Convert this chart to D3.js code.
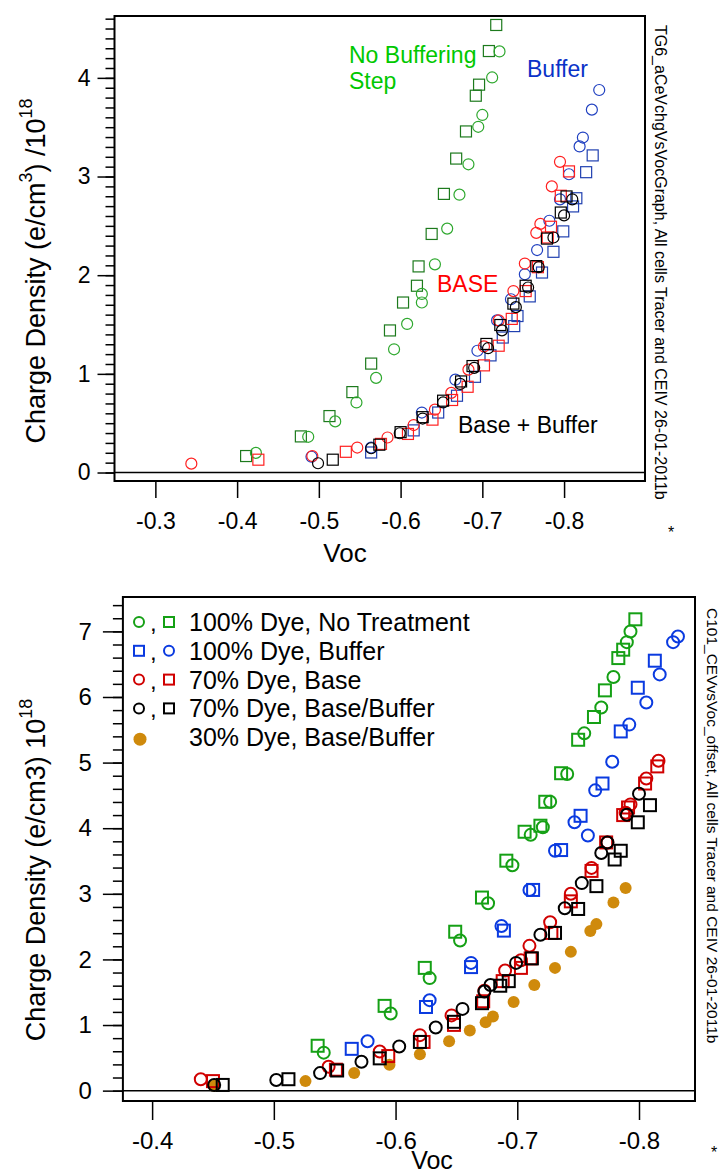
<!DOCTYPE html>
<html>
<head>
<meta charset="utf-8">
<title>Charge Density vs Voc</title>
<script src="https://d3js.org/d3.v7.min.js"></script>
<style>
  body { margin: 0; background: #fff; }
  svg { display: block; font-family: "Liberation Sans", Arial, Helvetica, sans-serif; }
</style>
</head>
<body>
<script>
// ---- top panel: [Voc, charge density /1e18] ----
var topNoBufSquares = [[-0.411,0.167],[-0.478,0.366],[-0.513,0.572],[-0.541,0.815],[-0.564,1.104],[-0.587,1.44],[-0.603,1.723],[-0.620,1.893],[-0.622,2.089],[-0.638,2.418],[-0.653,2.824],[-0.668,3.182],[-0.680,3.457],[-0.692,3.819],[-0.696,3.931],[-0.708,4.272],[-0.717,4.536]];
var topNoBufCircles = [[-0.423,0.199],[-0.487,0.362],[-0.520,0.518],[-0.546,0.710],[-0.570,0.959],[-0.592,1.249],[-0.608,1.506],[-0.626,1.723],[-0.626,1.810],[-0.642,2.110],[-0.657,2.472],[-0.672,2.816],[-0.683,3.124],[-0.695,3.504],[-0.700,3.624],[-0.712,4.004],[-0.721,4.268]];
var topBufferCircles = [[-0.491,0.160],[-0.564,0.253],[-0.626,0.608],[-0.667,0.941],[-0.694,1.234],[-0.718,1.542],[-0.735,1.756],[-0.752,2.009],[-0.767,2.255],[-0.782,2.552],[-0.795,2.769],[-0.806,3.023],[-0.819,3.305],[-0.823,3.395],[-0.834,3.678],[-0.843,3.877]];
var topBufferSquares = [[-0.564,0.203],[-0.616,0.427],[-0.646,0.608],[-0.669,0.778],[-0.691,0.970],[-0.710,1.187],[-0.725,1.368],[-0.739,1.484],[-0.743,1.586],[-0.758,1.785],[-0.773,2.027],[-0.787,2.237],[-0.799,2.444],[-0.811,2.697],[-0.815,2.780],[-0.827,3.044],[-0.835,3.214]];
var topBaseCircles = [[-0.344,0.090],[-0.492,0.167],[-0.547,0.253],[-0.584,0.355],[-0.616,0.481],[-0.642,0.637],[-0.662,0.807],[-0.683,1.043],[-0.702,1.278],[-0.720,1.542],[-0.738,1.839],[-0.752,2.118],[-0.766,2.429],[-0.771,2.520],[-0.785,2.900],[-0.795,3.149]];
var topBaseSquares = [[-0.426,0.130],[-0.533,0.210],[-0.576,0.290],[-0.609,0.391],[-0.639,0.536],[-0.663,0.735],[-0.682,0.869],[-0.702,1.086],[-0.720,1.285],[-0.736,1.557],[-0.753,1.839],[-0.768,2.081],[-0.780,2.382],[-0.784,2.491],[-0.796,2.805],[-0.806,3.052]];
var topBaseBufCircles = [[-0.499,0.094],[-0.564,0.246],[-0.599,0.398],[-0.627,0.547],[-0.652,0.710],[-0.673,0.898],[-0.690,1.061],[-0.707,1.260],[-0.724,1.441],[-0.741,1.676],[-0.756,1.875],[-0.769,2.081],[-0.787,2.382],[-0.800,2.606],[-0.810,2.769]];
var topBaseBufSquares = [[-0.517,0.130],[-0.574,0.282],[-0.600,0.409],[-0.627,0.561],[-0.652,0.728],[-0.674,0.923],[-0.688,1.079],[-0.705,1.303],[-0.722,1.495],[-0.738,1.712],[-0.753,1.893],[-0.766,2.092],[-0.779,2.371],[-0.796,2.635],[-0.803,2.798]];

// ---- bottom panel ----
var botNoTreatSquares = [[-0.536,0.684],[-0.591,1.292],[-0.624,1.871],[-0.649,2.422],[-0.671,2.943],[-0.691,3.505],[-0.706,3.946],[-0.719,4.038],[-0.723,4.403],[-0.736,4.838],[-0.750,5.348],[-0.763,5.695],[-0.772,6.101],[-0.783,6.593],[-0.787,6.721],[-0.797,7.184]];
var botNoTreatCircles = [[-0.541,0.579],[-0.596,1.176],[-0.628,1.715],[-0.653,2.288],[-0.676,2.856],[-0.696,3.436],[-0.711,3.899],[-0.721,4.015],[-0.727,4.403],[-0.741,4.826],[-0.755,5.446],[-0.769,5.840],[-0.779,6.304],[-0.790,6.836],[-0.793,6.999]];
var botBufferSquares = [[-0.564,0.637],[-0.625,1.275],[-0.662,1.883],[-0.689,2.439],[-0.713,3.059],[-0.736,3.667],[-0.752,4.189],[-0.770,4.681],[-0.785,5.475],[-0.799,6.141],[-0.813,6.553]];
var botBufferCircles = [[-0.577,0.753],[-0.628,1.379],[-0.662,1.947],[-0.687,2.509],[-0.710,3.059],[-0.731,3.656],[-0.747,4.090],[-0.758,3.888],[-0.764,4.577],[-0.778,5.012],[-0.792,5.579],[-0.806,5.915],[-0.817,6.344],[-0.828,6.836],[-0.832,6.923]];
var botBaseCircles = [[-0.440,0.174],[-0.545,0.365],[-0.587,0.597],[-0.620,0.846],[-0.646,1.147],[-0.673,1.524],[-0.690,1.831],[-0.703,1.987],[-0.710,2.207],[-0.727,2.567],[-0.744,3.001],[-0.761,3.395],[-0.774,3.783],[-0.789,4.235],[-0.793,4.363],[-0.806,4.757],[-0.816,5.029]];
var botBaseSquares = [[-0.450,0.145],[-0.551,0.319],[-0.594,0.527],[-0.623,0.742],[-0.648,1.002],[-0.672,1.362],[-0.688,1.669],[-0.703,1.871],[-0.711,2.016],[-0.728,2.404],[-0.744,2.885],[-0.761,3.349],[-0.773,3.783],[-0.787,4.200],[-0.791,4.316],[-0.805,4.681],[-0.815,4.942]];
var botBaseBufCircles = [[-0.451,0.087],[-0.502,0.162],[-0.538,0.267],[-0.572,0.440],[-0.603,0.672],[-0.633,0.962],[-0.655,1.246],[-0.673,1.512],[-0.678,1.611],[-0.699,1.947],[-0.719,2.375],[-0.739,2.781],[-0.753,3.163],[-0.769,3.621],[-0.774,3.783],[-0.790,4.206],[-0.800,4.525]];
var botBaseBufSquares = [[-0.458,0.087],[-0.512,0.174],[-0.552,0.307],[-0.587,0.492],[-0.620,0.742],[-0.648,1.049],[-0.671,1.333],[-0.686,1.599],[-0.693,1.669],[-0.712,2.016],[-0.731,2.404],[-0.750,2.769],[-0.765,3.117],[-0.780,3.523],[-0.785,3.656],[-0.799,4.090],[-0.809,4.351]];
var bot30Dye = [[-0.451,0.075],[-0.526,0.145],[-0.566,0.267],[-0.595,0.394],[-0.620,0.556],[-0.644,0.753],[-0.661,0.915],[-0.674,1.043],[-0.680,1.130],[-0.697,1.350],[-0.714,1.611],[-0.731,1.871],[-0.744,2.115],[-0.760,2.433],[-0.765,2.538],[-0.779,2.868],[-0.789,3.088]];

var topXTicks = [-0.3, -0.4, -0.5, -0.6, -0.7, -0.8];
var topYTicks = [0, 1, 2, 3, 4];
var botXTicks = [-0.4, -0.5, -0.6, -0.7, -0.8];
var botYTicks = [0, 1, 2, 3, 4, 5, 6, 7];
var legendLabels = ["100% Dye, No Treatment", "100% Dye, Buffer", "70% Dye, Base", "70% Dye, Base/Buffer", "30% Dye, Base/Buffer"];

var svg = d3.select("body").append("svg")
  .attr("width", 722).attr("height", 1176);

function sym(g, shape, cx, cy, color, size, sw) {
  if (shape == "circle") {
    g.append("circle").attr("cx", cx).attr("cy", cy).attr("r", size)
      .attr("fill", "none").attr("stroke", color).attr("stroke-width", sw);
  } else if (shape == "dot") {
    g.append("circle").attr("cx", cx).attr("cy", cy).attr("r", size)
      .attr("fill", color);
  } else {
    g.append("rect").attr("x", cx - size).attr("y", cy - size)
      .attr("width", size * 2).attr("height", size * 2)
      .attr("fill", "none").attr("stroke", color).attr("stroke-width", sw);
  }
}

function panel(p) {
  var g = svg.append("g");
  var x = d3.scaleLinear().domain(p.xDomain).range([p.left, p.right]);
  var y = d3.scaleLinear().domain(p.yDomain).range([p.bottom, p.top]);

  // minor y ticks
  var minor = d3.range(0, p.yDomain[1], p.minorStep).map(function(v) { return +v.toFixed(2); });
  g.append("g").attr("transform", "translate(" + p.left + ",0)")
    .call(d3.axisLeft(y).tickValues(minor).tickSize(p.minorLen).tickFormat(""))
    .call(function(a) { a.select(".domain").remove(); })
    .selectAll("line").attr("stroke-width", 1.5);

  var ya = g.append("g").attr("transform", "translate(" + p.left + ",0)")
    .call(d3.axisLeft(y).tickValues(p.yTicks).tickSize(p.majorLen).tickPadding(p.yPad).tickFormat(d3.format("d")));
  ya.select(".domain").remove();
  ya.selectAll("line").attr("stroke-width", 1.5);
  ya.attr("font-family", null).attr("font-size", p.tickFont);
  ya.selectAll("text").attr("fill", "#000");

  var xa = g.append("g").attr("transform", "translate(0," + p.bottom + ")")
    .call(d3.axisBottom(x).tickValues(p.xTicks).tickSize(p.xTickLen).tickPadding(p.xPad)
      .tickFormat(function(d) { return d.toFixed(1); }));
  xa.select(".domain").remove();
  xa.selectAll("line").attr("stroke-width", 1.5);
  xa.attr("font-family", null).attr("font-size", p.tickFont);
  xa.selectAll("text").attr("fill", "#000");

  // zero line
  g.append("line").attr("x1", p.left).attr("x2", p.right)
    .attr("y1", y(0)).attr("y2", y(0))
    .attr("stroke", "#000").attr("stroke-width", 1.5);

  // series
  p.series.forEach(function(s) {
    var sg = g.append("g");
    s.data.forEach(function(d) {
      sym(sg, s.shape, x(d[0]), y(d[1]), s.color, p.symSize, p.symWidth);
    });
  });

  // frame
  g.append("rect").attr("x", p.left).attr("y", p.top)
    .attr("width", p.right - p.left).attr("height", p.bottom - p.top)
    .attr("fill", "none").attr("stroke", "#000").attr("stroke-width", 2);

  return g;
}

// ---------- top panel ----------
var topG = panel({
  left: 114.5, right: 645, top: 16, bottom: 481,
  xDomain: [-0.25, -0.899], yDomain: [-0.086, 4.627],
  xTicks: topXTicks, yTicks: topYTicks, minorStep: 0.1,
  majorLen: 17, minorLen: 9, yPad: 7, xTickLen: 17, xPad: 15,
  tickFont: 23, symSize: 5.5, symWidth: 1.2,
  series: [
    { data: topNoBufSquares, shape: "square", color: "#1d7a1d" },
    { data: topNoBufCircles, shape: "circle", color: "#2ea82e" },
    { data: topBufferSquares, shape: "square", color: "#2040b0" },
    { data: topBufferCircles, shape: "circle", color: "#2040c0" },
    { data: topBaseCircles, shape: "circle", color: "#ff2020" },
    { data: topBaseSquares, shape: "square", color: "#ff2020" },
    { data: topBaseBufCircles, shape: "circle", color: "#000" },
    { data: topBaseBufSquares, shape: "square", color: "#000" }
  ]
});

var yt = topG.append("text").attr("transform", "translate(45,271) rotate(-90)")
  .attr("text-anchor", "middle").attr("font-size", 27);
yt.append("tspan").text("Charge Density (e/cm");
yt.append("tspan").attr("font-size", 18).attr("dy", -13).text("3");
yt.append("tspan").attr("dy", 13).text(") /10");
yt.append("tspan").attr("font-size", 18).attr("dy", -13).text("18");

topG.append("text").attr("x", 345).attr("y", 562).attr("text-anchor", "middle")
  .attr("font-size", 26).text("Voc");

topG.append("text").attr("transform", "translate(655,25) rotate(90)")
  .attr("font-size", 16).text("TG6_aCeVchgVsVocGraph, All cells Tracer and CEIV 26-01-2011b");
topG.append("text").attr("x", 668).attr("y", 538).attr("font-size", 16).text("*");

topG.append("text").attr("x", 349).attr("y", 63).attr("font-size", 23).attr("fill", "#00c800").text("No Buffering");
topG.append("text").attr("x", 349).attr("y", 89).attr("font-size", 23).attr("fill", "#00c800").text("Step");
topG.append("text").attr("x", 527).attr("y", 77).attr("font-size", 23).attr("fill", "#0a32c8").text("Buffer");
topG.append("text").attr("x", 437).attr("y", 292).attr("font-size", 23).attr("fill", "#ff0000").text("BASE");
topG.append("text").attr("x", 458).attr("y", 433).attr("font-size", 23).attr("fill", "#000").text("Base + Buffer");

// ---------- bottom panel ----------
var green = "#15a015", blue = "#0a3ae0", red = "#d00000", orange = "#cf8a0c";
var botG = panel({
  left: 122.9, right: 695, top: 597, bottom: 1101,
  xDomain: [-0.376, -0.846], yDomain: [-0.158, 7.524],
  xTicks: botXTicks, yTicks: botYTicks, minorStep: 0.2,
  majorLen: 20, minorLen: 10, yPad: 11, xTickLen: 19, xPad: 12,
  tickFont: 24, symSize: 6, symWidth: 2,
  series: [
    { data: bot30Dye, shape: "dot", color: orange },
    { data: botNoTreatSquares, shape: "square", color: green },
    { data: botNoTreatCircles, shape: "circle", color: green },
    { data: botBufferSquares, shape: "square", color: blue },
    { data: botBufferCircles, shape: "circle", color: blue },
    { data: botBaseCircles, shape: "circle", color: red },
    { data: botBaseSquares, shape: "square", color: red },
    { data: botBaseBufCircles, shape: "circle", color: "#000" },
    { data: botBaseBufSquares, shape: "square", color: "#000" }
  ]
});

var legendSyms = [["circle", "square"], ["square", "circle"], ["circle", "square"], ["circle", "square"], ["dot"]];
var legendColors = [green, blue, red, "#000", orange];
legendLabels.forEach(function(lab, i) {
  var cy = 622 + i * 28.8;
  var lg = botG.append("g");
  if (legendSyms[i].length == 2) {
    sym(lg, legendSyms[i][0], 139, cy, legendColors[i], 5, 2);
    lg.append("text").attr("x", 150).attr("y", cy + 9).attr("font-size", 24).text(",");
    sym(lg, legendSyms[i][1], 169, cy, legendColors[i], 5, 2);
  } else {
    sym(lg, "dot", 140, cy + 2, legendColors[i], 6.5, 0);
  }
  lg.append("text").attr("x", 189).attr("y", cy + 9).attr("font-size", 25).text(lab);
});

var yb = botG.append("text").attr("transform", "translate(45,870) rotate(-90)")
  .attr("text-anchor", "middle").attr("font-size", 27);
yb.append("tspan").text("Charge Density (e/cm3) 10");
yb.append("tspan").attr("font-size", 18).attr("dy", -13).text("18");

botG.append("text").attr("x", 432).attr("y", 1169).attr("text-anchor", "middle")
  .attr("font-size", 25).text("Voc");

botG.append("text").attr("transform", "translate(707,608) rotate(90)")
  .attr("font-size", 15.5).text("C101_CEVvsVoc_offset, All cells Tracer and CEIV 26-01-2011b");
botG.append("text").attr("x", 711).attr("y", 1158).attr("font-size", 16).text("*");
</script>
</body>
</html>
